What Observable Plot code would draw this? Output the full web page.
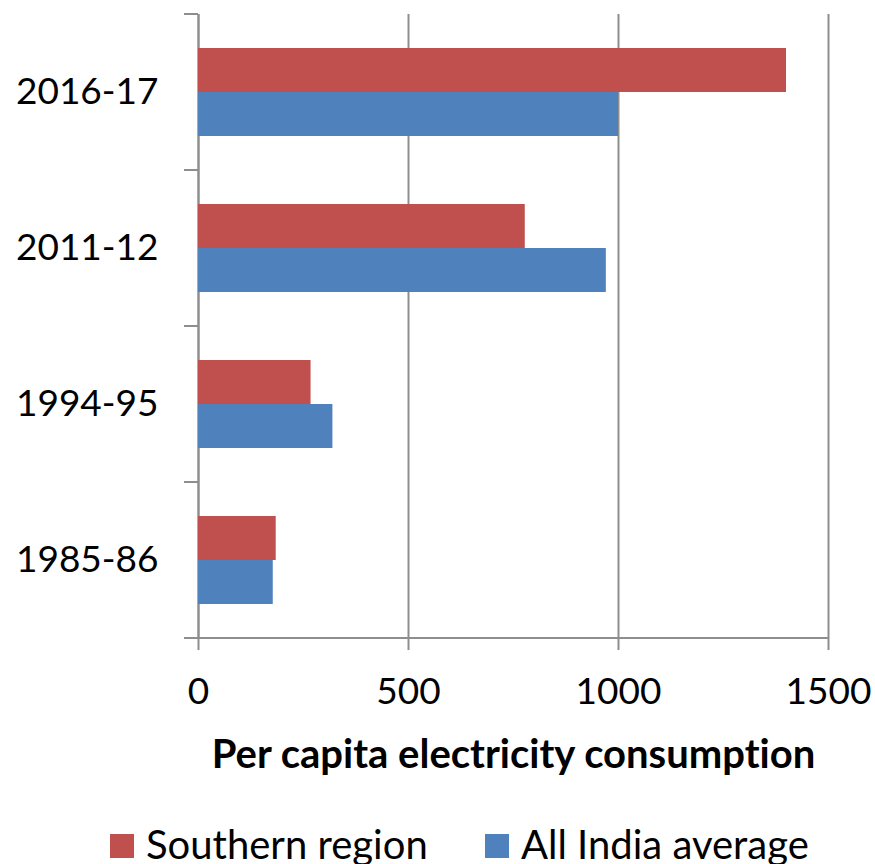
<!DOCTYPE html>
<html>
<head>
<meta charset="utf-8">
<script src="https://cdn.jsdelivr.net/npm/d3@7"></script>
<script src="https://cdn.jsdelivr.net/npm/@observablehq/plot@0.6"></script>
<style>
  html, body { margin: 0; padding: 0; background: #fff; }
  #wrap { position: relative; width: 875px; height: 864px; font-family: Lato, "Open Sans", sans-serif; font-variant-ligatures: none; overflow: hidden; }
  #wrap svg { display: block; font-variant-ligatures: none; }
  #wrap svg [aria-label="x-axis label"] text, #wrap svg [aria-label="x-axis label"] { font-weight: bold; font-size: 40px; }
  .leg { position: absolute; top: 824px; height: 40px; line-height: 40px; display: flex; align-items: center; font-size: 40px; color: #000; white-space: nowrap; }
  .leg .sw { width: 24px; height: 24px; margin-right: 12px; margin-top: 4px; }
</style>
</head>
<body>
<div id="wrap"></div>
<script>
const years = ["2016-17", "2011-12", "1994-95", "1985-86"];
const series = ["Southern region", "All India average"];
const southern = [1400, 778, 268, 185];
const allIndia = [1000, 971, 320, 178];
const xTicks = [0, 500, 1000, 1500];
const colors = ["#C0504D", "#4F81BD"];
const xTitle = "Per capita electricity consumption";

const data = years.flatMap((yr, i) => [
  {year: yr, series: series[0], value: southern[i]},
  {year: yr, series: series[1], value: allIndia[i]}
]);

const gridColor = "#8e8e8e";

const chart = Plot.plot({
  width: 875,
  height: 789,
  marginLeft: 198,
  marginRight: 47,
  marginTop: 13,
  marginBottom: 150,
  style: {fontFamily: "Lato, 'Open Sans', sans-serif", fontSize: "37px", color: "#000", background: "#fff", overflow: "visible"},
  x: {domain: [0, 1500], ticks: xTicks, tickFormat: d => String(d), tickSize: 12, tickPadding: 27, label: xTitle, labelAnchor: "center", labelOffset: 129, labelArrow: false},
  fy: {domain: years, padding: 0, axis: "left", tickSize: 0, tickPadding: 40, label: null},
  y: {domain: series, paddingInner: 0, paddingOuter: 0.758, axis: null},
  color: {domain: series, range: colors},
  marks: [
    Plot.gridX(xTicks, {stroke: gridColor, strokeOpacity: 1, strokeWidth: 2}),
    Plot.ruleX([0], {stroke: gridColor, strokeWidth: 2}),
    Plot.barX(data, {fy: "year", y: "series", x: "value", fill: "series"})
  ]
});

document.getElementById("wrap").appendChild(chart);

// Excel-style category boundary ticks and bottom axis line, placed with the plot's own scales
const sx = chart.scale("x");
const sfy = chart.scale("fy");
const svg = d3.select(chart);
const x0 = sx.apply(0);
const xEnd = sx.apply(xTicks[xTicks.length - 1]);
const bw = sfy.bandwidth;
const edges = years.map(y => sfy.apply(y)).concat([sfy.apply(years[years.length - 1]) + bw]);
const g = svg.append("g").attr("stroke", gridColor).attr("stroke-width", 2);
edges.forEach(e => {
  g.append("line").attr("x1", x0 - 14).attr("x2", x0).attr("y1", e).attr("y2", e);
});
const bottom = edges[edges.length - 1];
g.append("line").attr("x1", x0 - 14).attr("x2", xEnd).attr("y1", bottom).attr("y2", bottom);
svg.selectAll('[aria-label="x-axis tick"] path, [aria-label="x-axis tick"]').attr("stroke", gridColor).attr("stroke-width", 2);

// legend
const legPos = [110, 485];
series.forEach((s, i) => {
  const d = document.createElement("div");
  d.className = "leg";
  d.style.left = legPos[i] + "px";
  const sw = document.createElement("div");
  sw.className = "sw";
  sw.style.background = colors[i];
  const t = document.createElement("span");
  t.textContent = s;
  d.appendChild(sw);
  d.appendChild(t);
  document.getElementById("wrap").appendChild(d);
});
</script>
</body>
</html>
